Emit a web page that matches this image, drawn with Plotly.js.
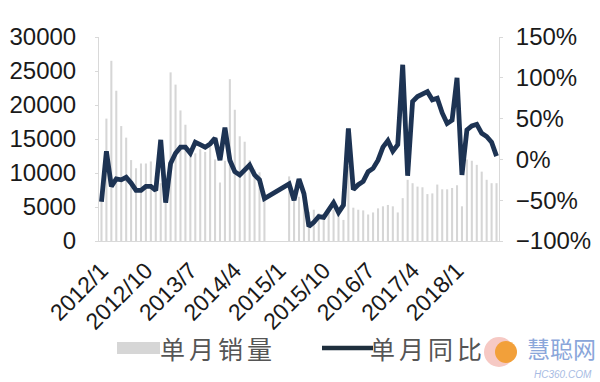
<!DOCTYPE html>
<html>
<head>
<meta charset="utf-8">
<script src="https://cdn.plot.ly/plotly-3.0.1.min.js"></script>
<style>
html,body{margin:0;padding:0;background:#fff;}
#chart{width:600px;height:382px;}
.annotation[data-index="0"] text, .annotation[data-index="1"] text{letter-spacing:4px;}
</style>
</head>
<body>
<div id="chart"></div>
<script>
var months = [
 "2012/1","2012/2","2012/3","2012/4","2012/5","2012/6","2012/7","2012/8","2012/9","2012/10","2012/11","2012/12",
 "2013/1","2013/2","2013/3","2013/4","2013/5","2013/6","2013/7","2013/8","2013/9","2013/10","2013/11","2013/12",
 "2014/1","2014/2","2014/3","2014/4","2014/5","2014/6","2014/7","2014/8","2014/9","2014/10","2014/11","2014/12",
 "2015/1","2015/2","2015/3","2015/4","2015/5","2015/6","2015/7","2015/8","2015/9","2015/10","2015/11","2015/12",
 "2016/1","2016/2","2016/3","2016/4","2016/5","2016/6","2016/7","2016/8","2016/9","2016/10","2016/11","2016/12",
 "2017/1","2017/2","2017/3","2017/4","2017/5","2017/6","2017/7","2017/8","2017/9","2017/10","2017/11","2017/12",
 "2018/1","2018/2","2018/3","2018/4","2018/5","2018/6","2018/7","2018/8","2018/9"
];
var monthlySales = [
 6500,18000,26500,22100,16900,15200,11900,10700,11400,11400,11700,9500,
 8500,8500,24800,23000,19200,17100,12800,12900,13500,13100,13900,12000,
 8600,11800,23800,19300,15400,14600,11900,10500,10100,6500,null,null,
 null,null,9500,7500,6500,6000,4300,4600,4100,3800,4300,4600,
 4100,3100,11000,4900,4600,4500,3900,4200,4800,5100,5300,5100,
 4200,6300,9000,8500,8000,7900,6900,7000,8300,7600,7600,7800,
 8200,5100,12000,11800,11200,10200,9000,8500,8500
];
var monthlyYoY = [
 -52,10,-33,-24,-25,-22,-29,-38,-38,-33,-33,-38,
 24,-53,-5,7.5,15,15,7.5,21,18,15,19,26,
 -1,39,-1,-15,-19,-13,-7,-19,-25,-48,null,null,
 null,null,-30,-50,-24,-42,-82,-77,-70,-71,-62,-53,
 -65,-56,38,-37,-31,-27,-15,-11,-1,15,23,10,
 18,116,-20,71,77,80,83,73,75,57,44,48,
 100,-19,36,41,43,32,28,21,4
];
var xTickLabels = ["2012/1","2012/10","2013/7","2014/4","2015/1","2015/10","2016/7","2017/4","2018/1"];
var seriesNames = ["单月销量","单月同比"];

var W = 600, H = 382, mL = 99, mR = 101, mT = 37, mB = 141;
var pw = W - mL - mR, ph = H - mT - mB;
function px(x){ return (x - mL) / pw; }
function py(y){ return (H - mB - y) / ph; }

var barColor = '#d6d6d6', lineColor = '#1d3353', legLine = '#1f2f3d';
var tickFont = {family: 'Liberation Sans, Arial, sans-serif', size: 24, color: '#1a1a1a'};

var traces = [
 {type: 'bar', x: months, y: monthlySales, name: seriesNames[0], marker: {color: barColor}, width: 0.42, yaxis: 'y', hoverinfo: 'none'},
 {type: 'scatter', mode: 'lines', x: months, y: monthlyYoY, name: seriesNames[1], line: {color: lineColor, width: 4.8, shape: 'linear'}, connectgaps: true, yaxis: 'y2', hoverinfo: 'none'}
];

var layout = {
 width: W, height: H,
 margin: {l: mL, r: mR, t: mT, b: mB, pad: 0},
 paper_bgcolor: '#ffffff', plot_bgcolor: '#ffffff',
 showlegend: false,
 xaxis: {type: 'category', range: [-0.5, months.length - 0.5], tickmode: 'array', tickvals: xTickLabels, ticktext: xTickLabels,
   tickangle: -45, tickfont: {family: 'Liberation Sans, Arial, sans-serif', size: 23, color: '#1a1a1a'},
   showline: true, linecolor: '#d9d9d9', linewidth: 1, ticks: '', showgrid: false, zeroline: false, ticklabelstandoff: 6},
 yaxis: {range: [0, 30000], dtick: 5000, tickformat: 'd', tickfont: tickFont, showgrid: false, zeroline: false,
   showline: true, linecolor: '#d9d9d9', linewidth: 1, ticks: 'outside', ticklen: 3, tickcolor: '#d9d9d9', ticklabelstandoff: 14},
 yaxis2: {range: [-100, 150], dtick: 50, ticksuffix: '%', overlaying: 'y', side: 'right', tickfont: tickFont, showgrid: false, zeroline: false,
   showline: true, linecolor: '#d9d9d9', linewidth: 1, ticks: 'outside', ticklen: 3, tickcolor: '#d9d9d9', ticklabelstandoff: 8},
 shapes: [
   {type: 'rect', xref: 'paper', yref: 'paper', x0: px(117), x1: px(160), y0: py(354), y1: py(342), fillcolor: barColor, line: {width: 0}},
   {type: 'line', xref: 'paper', yref: 'paper', x0: px(322), x1: px(373), y0: py(348), y1: py(348), line: {color: legLine, width: 4.5}},
   {type: 'circle', xref: 'paper', yref: 'paper', x0: px(484), x1: px(514), y0: py(367), y1: py(337), fillcolor: '#f6c9c4', line: {width: 0}},
   {type: 'circle', xref: 'paper', yref: 'paper', x0: px(495), x1: px(517), y0: py(363), y1: py(341), fillcolor: '#f2a03a', line: {width: 0}}
 ],
 annotations: [
   {xref: 'paper', yref: 'paper', x: px(166), y: py(348), xanchor: 'left', yanchor: 'middle', text: seriesNames[0], showarrow: false,
    font: {family: 'Noto Sans CJK SC, sans-serif', size: 25, color: '#555555'}},
   {xref: 'paper', yref: 'paper', x: px(376), y: py(348), xanchor: 'left', yanchor: 'middle', text: seriesNames[1], showarrow: false,
    font: {family: 'Noto Sans CJK SC, sans-serif', size: 25, color: '#555555'}},
   {xref: 'paper', yref: 'paper', x: px(598), y: py(348), xanchor: 'right', yanchor: 'middle', text: '慧聪网', showarrow: false,
    font: {family: 'Noto Sans CJK SC, sans-serif', size: 23, color: '#8aa6da'}},
   {xref: 'paper', yref: 'paper', x: px(594), y: py(374), xanchor: 'right', yanchor: 'middle', text: '<i>HC360.COM</i>', showarrow: false,
    font: {family: 'Liberation Sans, Arial, sans-serif', size: 10, color: '#a7bbe3'}}
 ]
};

Plotly.newPlot('chart', traces, layout, {displayModeBar: false, staticPlot: true});
</script>
</body>
</html>
